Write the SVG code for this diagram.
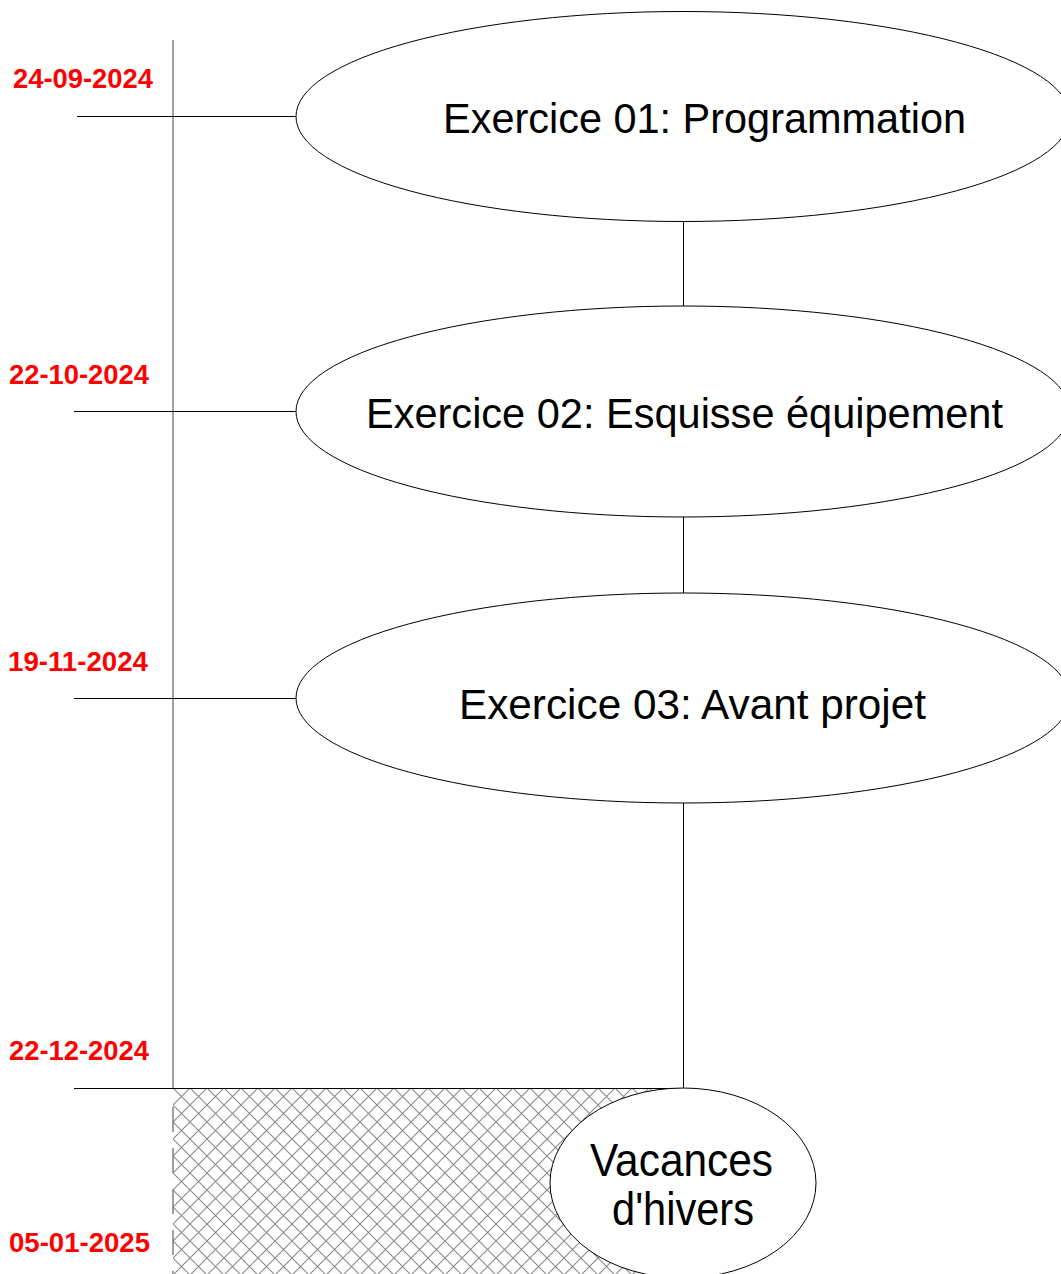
<svg xmlns="http://www.w3.org/2000/svg" width="1061" height="1274" viewBox="0 0 1061 1274">
<style>
.ln{stroke:#000;stroke-width:1;fill:none}
.axis{stroke:#6e6e6e;stroke-width:1.3;fill:none}
.node{fill:#fff;stroke:#000;stroke-width:1}
.lbl{font-family:"Liberation Sans",Arial,sans-serif;font-size:42px;fill:#000}
.date{font-family:"Liberation Sans",Arial,sans-serif;font-size:27.5px;font-weight:bold;fill:#ff0000}
</style>
<defs>
<pattern id="hatch" x="173" y="1088" width="17" height="17" patternUnits="userSpaceOnUse">
<path d="M0,0 L17,17 M17,0 L0,17" stroke="#8a8a8a" stroke-width="1.1"/>
</pattern>
</defs>
<rect width="1061" height="1274" fill="#fff"/>
<rect id="hatch-area" x="173" y="1088" width="510" height="190" fill="url(#hatch)"/>
<g id="connectors">
<line class="axis" x1="173" y1="40" x2="173" y2="1088"/>
<line class="axis" x1="173" y1="1107" x2="173" y2="1274" stroke-dasharray="25 16"/>
<line class="ln" x1="77" y1="116.5" x2="296" y2="116.5"/>
<line class="ln" x1="74" y1="411.5" x2="296" y2="411.5"/>
<line class="ln" x1="74" y1="698.5" x2="296" y2="698.5"/>
<line class="ln" x1="74" y1="1088.5" x2="683" y2="1088.5"/>
<line class="ln" x1="683.5" y1="222" x2="683.5" y2="306"/>
<line class="ln" x1="683.5" y1="517" x2="683.5" y2="593"/>
<line class="ln" x1="683.5" y1="803" x2="683.5" y2="1088"/>
</g>
<g id="dates">
<text class="date" x="13" y="88" textLength="140" lengthAdjust="spacingAndGlyphs">24-09-2024</text>
<text class="date" x="9" y="383.5" textLength="140" lengthAdjust="spacingAndGlyphs">22-10-2024</text>
<text class="date" x="8" y="670.5" textLength="140" lengthAdjust="spacingAndGlyphs">19-11-2024</text>
<text class="date" x="9" y="1060" textLength="140" lengthAdjust="spacingAndGlyphs">22-12-2024</text>
<text class="date" x="9" y="1252" textLength="141" lengthAdjust="spacingAndGlyphs">05-01-2025</text>
</g>
<g id="ex01">
<ellipse class="node" cx="683" cy="116.5" rx="387" ry="105"/>
<text class="lbl" x="443" y="132.5" textLength="523" lengthAdjust="spacingAndGlyphs">Exercice 01: Programmation</text>
</g>
<g id="ex02">
<ellipse class="node" cx="683" cy="411.5" rx="387" ry="105.5"/>
<text class="lbl" x="366" y="428" textLength="637" lengthAdjust="spacingAndGlyphs">Exercice 02: Esquisse équipement</text>
</g>
<g id="ex03">
<ellipse class="node" cx="683" cy="698" rx="387" ry="105"/>
<text class="lbl" x="459" y="719" textLength="467" lengthAdjust="spacingAndGlyphs">Exercice 03: Avant projet</text>
</g>
<g id="vacances">
<ellipse class="node" cx="683" cy="1183" rx="133" ry="95"/>
<text class="lbl" x="590" y="1176" style="font-size:46px" textLength="183" lengthAdjust="spacingAndGlyphs">Vacances</text>
<text class="lbl" x="612" y="1225" style="font-size:46px" textLength="142" lengthAdjust="spacingAndGlyphs">d'hivers</text>
</g>
</svg>
